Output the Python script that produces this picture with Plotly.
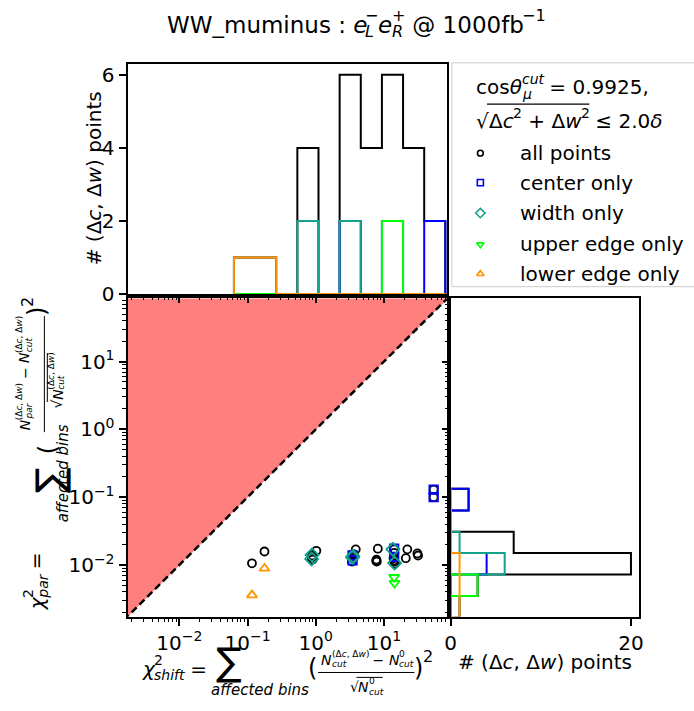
import re
import plotly.graph_objects as go

W, H = 694, 711
FONT = "DejaVu Sans"

# ---------------- data ----------------
# scatter: chi2_shift (x) vs chi2_par (y)
all_x = [0.116, 0.177, 1.02, 0.891, 0.871, 0.902, 3.86, 3.55, 3.47, 3.51, 3.39, 3.63,
         8.13, 7.69, 7.76, 7.85, 14.1, 14.1, 14.3, 14.5, 13.8, 14.1, 22.0, 20.9, 30.9, 31.6,
         53.5, 53.5]
all_y = [0.0106, 0.0158, 0.0162, 0.0138, 0.0129, 0.0120, 0.0170, 0.0145, 0.0132, 0.0123,
         0.0112, 0.0138, 0.0174, 0.0115, 0.0120, 0.0112, 0.0170, 0.0151, 0.0112, 0.0105,
         0.0126, 0.0117, 0.0170, 0.0126, 0.0148, 0.0138, 0.129, 0.100]
center_x = [3.46, 3.46, 14.1, 14.1, 53.5, 53.5]
center_y = [0.0138, 0.0117, 0.0174, 0.0132, 0.129, 0.100]
width_x = [0.88, 0.87, 3.46, 3.51, 13.5, 14.3]
width_y = [0.0140, 0.0123, 0.0129, 0.0135, 0.0170, 0.0107]
upper_x = [14.1, 14.3]
upper_y = [0.0066, 0.0054]
lower_x = [0.177, 0.116]
lower_y = [0.0089, 0.0036]

# top histogram (log10 chi2_shift bins)
top_edges_log = [-1.2, -0.89, -0.58, -0.27, 0.04, 0.35, 0.66, 0.97, 1.28, 1.59, 1.90]
top_all = [1, 1, 0, 4, 0, 6, 4, 6, 4, 2]
top_center = [0, 0, 0, 0, 0, 2, 0, 2, 0, 2]
top_width = [0, 0, 0, 2, 0, 2, 0, 2, 0, 0]
top_upper = [0, 0, 0, 0, 0, 0, 0, 2, 0, 0]
top_lower = [1, 1, 0, 0, 0, 0, 0, 0, 0, 0]

# right histogram (log10 chi2_par bins, bottom -> top)
right_edges_log = [-2.776, -2.458, -2.14, -1.822, -1.509, -1.195, -0.877]
right_all = [1, 3, 20, 7, 0, 2]
right_center = [0, 0, 4, 0, 0, 2]
right_width = [0, 0, 6, 1, 0, 0]
right_upper = [0, 3, 0, 0, 0, 0]
right_lower = [1, 1, 1, 0, 0, 0]

legend_labels = ["all points", "center only", "width only", "upper edge only", "lower edge only"]
log_ticks = [0.01, 0.1, 1, 10]
log_tick_text = ["10<sup>−2</sup>", "10<sup>−1</sup>", "10<sup>0</sup>", "10<sup>1</sup>"]
top_yticks = [0, 2, 4, 6]
right_xticks = [0, 20]

# ---------------- style ----------------
C_ALL, C_CEN, C_WID, C_UP, C_LOW = "black", "#0000ff", "#12a28a", "#00ff00", "#ff9500"
LOG_RANGE = [-2.76, 1.93]


def px(x):
    return x / W


def py(y):
    return 1 - y / H


def step_top(edges_log, counts):
    e = [10 ** v for v in edges_log]
    xs, ys = [e[0]], [0]
    for i, c in enumerate(counts):
        xs += [e[i], e[i + 1]]
        ys += [c, c]
    xs.append(e[-1]); ys.append(0)
    return xs, ys


fig = go.Figure()

# red region above diagonal + dashed diagonal
lo, hi = 10 ** -3.5, 10 ** 2.5
fig.add_trace(go.Scatter(x=[lo, hi, lo, lo], y=[lo, hi, hi, lo], fill="toself", mode="lines",
                         fillcolor="#ff7f7f", line=dict(color="#ff7f7f", width=1),
                         hoverinfo="skip", showlegend=False, xaxis="x", yaxis="y"))
fig.add_trace(go.Scatter(x=[lo, hi], y=[lo, hi], mode="lines",
                         line=dict(color="black", width=2.5, dash="7px,4px"),
                         hoverinfo="skip", showlegend=False, xaxis="x", yaxis="y"))

scat = [
    (all_x, all_y, C_ALL, "circle-open", 8),
    (center_x, center_y, C_CEN, "square-open", 8.5),
    (width_x, width_y, C_WID, "diamond-open", 10),
    (upper_x, upper_y, C_UP, "triangle-down-open", 9),
    (lower_x, lower_y, C_LOW, "triangle-up-open", 9),
]
for xs, ys, col, sym, sz in scat:
    fig.add_trace(go.Scatter(x=xs, y=ys, mode="markers",
                             marker=dict(symbol=sym, size=sz, color=col, line=dict(color=col, width=1.8)),
                             showlegend=False, xaxis="x", yaxis="y"))

# top histogram
for counts, col in [(top_all, C_ALL), (top_center, C_CEN), (top_width, C_WID),
                    (top_upper, C_UP), (top_lower, C_LOW)]:
    xs, ys = step_top(top_edges_log, counts)
    fig.add_trace(go.Scatter(x=xs, y=ys, mode="lines", line=dict(color=col, width=2),
                             showlegend=False, xaxis="x2", yaxis="y2"))

# right histogram
for counts, col in [(right_all, C_ALL), (right_center, C_CEN), (right_width, C_WID),
                    (right_upper, C_UP), (right_lower, C_LOW)]:
    ys, xs = step_top(right_edges_log, counts)
    fig.add_trace(go.Scatter(x=xs, y=ys, mode="lines", line=dict(color=col, width=2),
                             showlegend=False, xaxis="x3", yaxis="y3"))

# legend markers (pixel-space overlay axis)
leg_y = [155, 185, 216, 248, 278]
for (xs, ys, col, sym, sz), yy in zip(scat, leg_y):
    fig.add_trace(go.Scatter(x=[482], y=[yy], mode="markers",
                             marker=dict(symbol=sym, size=sz * 0.72, color=col, line=dict(color=col, width=1.6)),
                             showlegend=False, xaxis="x4", yaxis="y4"))

minor_vals = [d * 10 ** k for k in range(-4, 3) for d in range(2, 10)]

common_axis = dict(showline=True, linewidth=2, linecolor="black", mirror=True, showgrid=False,
                   zeroline=False, ticks="outside", ticklen=7, tickwidth=1.5, tickcolor="black",
                   tickfont=dict(family=FONT, size=20, color="black"))
log_minor = dict(tickmode="array", tickvals=minor_vals, ticks="outside", ticklen=3.5,
                 tickwidth=1, tickcolor="black", showgrid=False)

main_x = [123.5, 448.5]
main_y = [303, 627]
top_y = [64, 298.5]
right_x = [451.7, 643]

fig.update_layout(
    width=W, height=H, autosize=False,
    margin=dict(l=0, r=0, t=0, b=0),
    paper_bgcolor="white", plot_bgcolor="rgba(0,0,0,0)",
    font=dict(family=FONT, color="black"),
    xaxis=dict(common_axis, type="log", range=LOG_RANGE, domain=[px(main_x[0]), px(main_x[1])],
               anchor="y", tickmode="array", tickvals=log_ticks, ticktext=log_tick_text, minor=log_minor),
    yaxis=dict(common_axis, type="log", range=LOG_RANGE, domain=[py(main_y[1]), py(main_y[0])],
               anchor="x", tickmode="array", tickvals=log_ticks, ticktext=log_tick_text, minor=log_minor),
    xaxis2=dict(common_axis, type="log", range=LOG_RANGE, domain=[px(main_x[0]), px(main_x[1])],
                anchor="y2", tickmode="array", tickvals=log_ticks, showticklabels=False, minor=log_minor),
    yaxis2=dict(common_axis, range=[0, 6.3], domain=[py(top_y[1]), py(top_y[0])], anchor="x2",
                tickmode="array", tickvals=top_yticks),
    xaxis3=dict(common_axis, range=[0, 20.87], domain=[px(right_x[0]), px(right_x[1])], anchor="y3",
                tickmode="array", tickvals=right_xticks),
    yaxis3=dict(common_axis, type="log", range=LOG_RANGE, domain=[py(main_y[1]), py(main_y[0])],
                anchor="x3", tickmode="array", tickvals=log_ticks, showticklabels=False, minor=log_minor),
    xaxis4=dict(visible=False, range=[0, W], domain=[0, 1], anchor="y4", fixedrange=True),
    yaxis4=dict(visible=False, range=[H, 0], domain=[0, 1], anchor="x4", fixedrange=True),
)

# ---------------- text helpers (mini math layout) ----------------
anns = []
shapes = []

CW = {' ': .318, '(': .39, ')': .39, ',': .318, '−': .838, '+': .838, '=': .838, '≤': .838, '.': .318,
      '0': .636, '1': .636, '2': .636, '5': .636, '9': .636, ':': .337, '_': .5, '@': 1.0, '#': .838,
      'N': .748, 'Δ': .684, 'W': .989, 'L': .557, 'R': .695, 'χ': .626, '√': .636, 'θ': .612, 'μ': .636,
      'δ': .612, 'a': .613, 'b': .635, 'c': .55, 'd': .635, 'e': .615, 'f': .352, 'g': .635, 'h': .634,
      'i': .278, 'l': .278, 'm': .974, 'n': .634, 'o': .612, 'p': .635, 'r': .411, 's': .521, 't': .392,
      'u': .634, 'w': .818, 'y': .592}


def tw(text, size):
    plain = re.sub(r"<[^>]+>", "", text)
    return sum(CW.get(ch, 0.6) for ch in plain) * size


def ann(text, x, y, size=20, angle=0, xanchor="center", yanchor="middle"):
    anns.append(dict(text=text, x=px(x), y=py(y), xref="paper", yref="paper", showarrow=False,
                     textangle=angle, xanchor=xanchor, yanchor=yanchor, borderpad=0,
                     font=dict(family=FONT, size=size, color="black")))


def put(text, x0, y0, u, v, size, angle):
    if angle == 0:
        ann(text, x0 + u, y0 - v, size, 0, "left", "middle")
    else:
        ann(text, x0 - v, y0 - u, size, -90, "center", "bottom")


def width_of(items):
    u = 0
    for it in items:
        if it[0] == "b":
            u += tw(it[1], it[2])
        else:
            u += max(tw(it[1], it[3]), tw(it[2], it[3]))
    return u


def place(items, x0, y0, base, angle=0):
    """lay items along the text direction; returns list of u positions after each item"""
    u = 0
    marks = []
    for it in items:
        if it[0] == "b":
            put(it[1], x0, y0, u, 0, it[2], angle)
            u += tw(it[1], it[2])
        else:
            _, sup, sub, sz = it
            if sup:
                put(sup, x0, y0, u, 0.42 * base, sz, angle)
            if sub:
                put(sub, x0, y0, u, -0.32 * base, sz, angle)
            u += max(tw(sup, sz), tw(sub, sz))
        marks.append(u)
    return marks


def hline(x0, x1, y, w=1):
    shapes.append(dict(type="line", xref="paper", yref="paper", x0=px(x0), x1=px(x1), y0=py(y), y1=py(y),
                       line=dict(color="black", width=w)))


def vline(x, y0, y1, w=1):
    shapes.append(dict(type="line", xref="paper", yref="paper", x0=px(x), x1=px(x), y0=py(y0), y1=py(y1),
                       line=dict(color="black", width=w)))


DCW = "(Δ<i>c</i>, Δ<i>w</i>)"

# title
title_items = [("b", "WW_muminus : <i>e</i>", 23), ("s", "−", "<i>L</i>", 16), ("b", "<i>e</i>", 23),
               ("s", "+", "<i>R</i>", 16), ("b", " @ 1000fb", 23), ("s", "−1", "", 16)]
tw_title = width_of(title_items)
place(title_items, 355 - tw_title / 2, 24, 23)

# top-hist y title, right-hist x title
ann("# (Δ<i>c</i>, Δ<i>w</i>) points", 89, 181, size=20, angle=-90)
ann("# (Δ<i>c</i>, Δ<i>w</i>) points", 548, 673, size=20)

# ---- x title of main panel ----
place([("b", "<i>χ</i>", 20), ("s", "2", "<i>shift</i>", 14), ("b", " =", 20)], 137, 680, 20)
ann("∑", 227, 673, size=38)
ann("<i>affected bins</i>", 207, 702, size=15, xanchor="left")
ann("(", 306, 679, size=24, xanchor="left")
num_b = [("b", "<i>N</i>", 14), ("s", DCW, "<i>cut</i>", 9), ("b", " − ", 14), ("b", "<i>N</i>", 14),
         ("s", "0", "<i>cut</i>", 9)]
wn = width_of(num_b)
place(num_b, 366 - wn / 2, 671, 14)
hline(317, 415, 684)
den_b = [("b", "√", 14), ("b", "<i>N</i>", 14), ("s", "0", "<i>cut</i>", 9)]
wd = width_of(den_b)
mk = place(den_b, 365 - wd / 2, 699, 14)
hline(365 - wd / 2 + mk[0] - 1, 365 - wd / 2 + mk[-1] + 1, 689)
ann(")", 414, 679, size=24, xanchor="left")
ann("2", 423, 668, size=16, xanchor="left")

# ---- y title of main panel (rotated) ----
place([("b", "<i>χ</i>", 20), ("s", "2", "<i>par</i>", 14), ("b", " =", 20)], 31, 622, 20, angle=-90)
ann("∑", 45, 488, size=38, angle=-90)
ann("<i>affected bins</i>", 58, 532, size=15, angle=-90, yanchor="bottom")
ann("(", 43, 463, size=24, angle=-90, yanchor="bottom")
num_l = [("b", "<i>N</i>", 14), ("s", DCW, "<i>par</i>", 9), ("b", " − ", 14), ("b", "<i>N</i>", 14),
         ("s", DCW, "<i>cut</i>", 9)]
wn = width_of(num_l)
place(num_l, 19, 380 + wn / 2, 14, angle=-90)
vline(39, 380 - wn / 2 - 1, 380 + wn / 2 + 1)
den_l = [("b", "√", 14), ("b", "<i>N</i>", 14), ("s", DCW, "<i>cut</i>", 9)]
wd = width_of(den_l)
mk = place(den_l, 52, 388 + wd / 2, 14, angle=-90)
vline(42, 388 + wd / 2 - mk[0] + 1, 388 + wd / 2 - mk[-1] - 1)
ann(")", 31, 322, size=24, angle=-90, yanchor="bottom")
ann("2", 22, 313, size=16, angle=-90, yanchor="bottom")

# ---- legend texts ----
place([("b", "cos<i>θ</i>", 20), ("s", "<i>cut</i>", "<i>μ</i>", 14), ("b", " = 0.9925,", 20)], 477, 88, 20)
sq = [("b", "√", 20), ("b", "Δ<i>c</i>", 20), ("s", "2", "", 14), ("b", " + Δ<i>w</i>", 20),
      ("s", "2", "", 14), ("b", " ≤ 2.0<i>δ</i>", 20)]
mk = place(sq, 477, 122, 20)
hline(477 + mk[0] - 1, 477 + mk[4] + 1, 105, 1.3)
for lab, yy in zip(legend_labels, leg_y):
    ann(lab, 521, yy, size=20, xanchor="left")

shapes.append(dict(type="rect", xref="paper", yref="paper", x0=px(453), x1=px(710), y0=py(291), y1=py(63),
                   line=dict(color="#cccccc", width=1), fillcolor="rgba(255,255,255,0.8)", layer="below"))

fig.update_layout(annotations=anns, shapes=shapes)
fig.write_html("out.html")
